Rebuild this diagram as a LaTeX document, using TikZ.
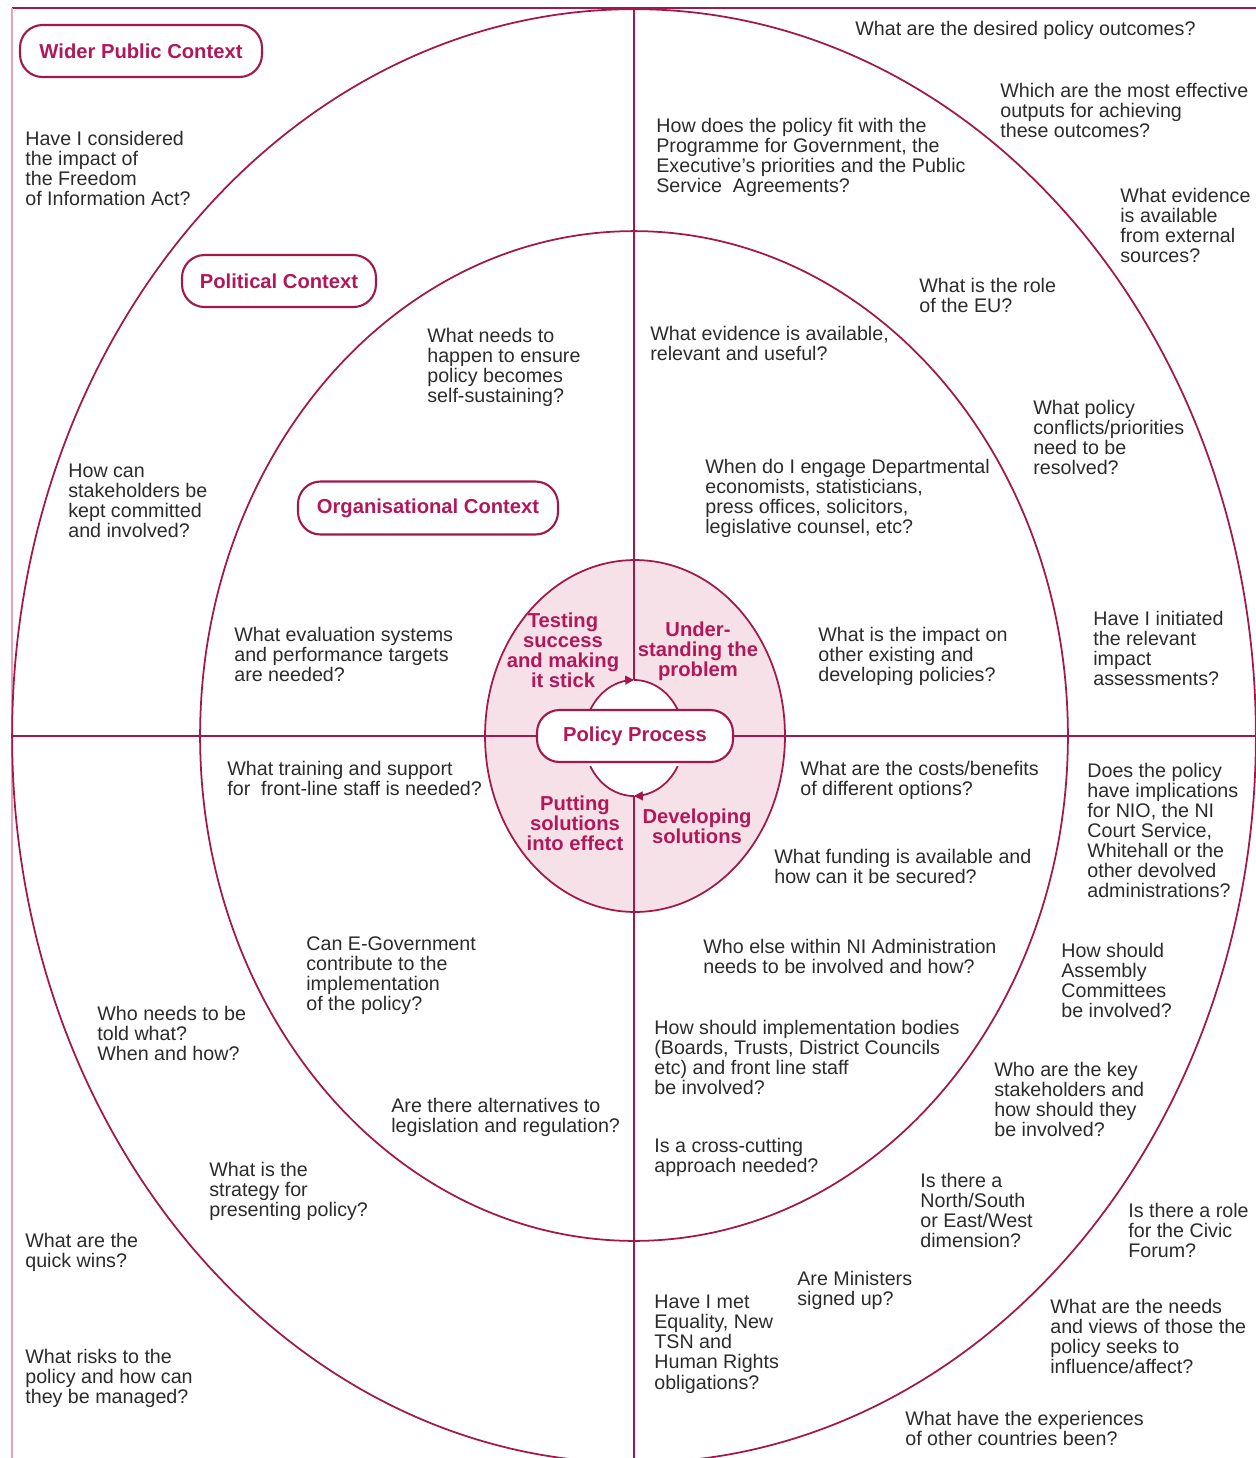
\documentclass[tikz,border=0pt]{standalone}
\usepackage{fontspec}
\setmainfont{Liberation Sans}
\usetikzlibrary{arrows.meta}
\definecolor{ring}{HTML}{A2174C}
\definecolor{ctx}{HTML}{B0185A}
\definecolor{hub}{HTML}{F7E1E9}
\definecolor{qgray}{HTML}{2B2B2B}
\definecolor{edge}{HTML}{E8A3B8}
\tikzset{
  question/.style={anchor=north west, align=left, inner sep=0pt, text=qgray,
    font=\fontsize{11.2}{11.4}\selectfont},
  context/.style={draw=ring, line width=1.2pt, fill=white, rounded corners=0.45cm,
    inner sep=0pt, text=ctx, font=\fontsize{11.5}{13}\selectfont\bfseries},
  stage/.style={anchor=north, align=center, inner sep=0pt, text=ctx,
    font=\fontsize{11.5}{11.4}\selectfont\bfseries},
  ringline/.style={draw=ring, line width=1pt}
}
\begin{document}
\begin{tikzpicture}[x=0.02cm, y=-0.02cm]
\useasboundingbox (0,0) rectangle (1256,1458);
\draw[ring, line width=1.2pt] (12,8) -- (1256,8);
\draw[edge, line width=1pt] (12,8) -- (12,1458);
\draw[ringline] (634,736) ellipse [x radius=12.44cm, y radius=14.54cm];
\draw[ringline] (634,736) ellipse [x radius=8.68cm, y radius=10.1cm];
\draw[ringline, fill=hub] (635,736) ellipse [x radius=3cm, y radius=3.52cm];
\draw[ringline] (12,736) -- (1256,736);
\draw[ringline] (634,8) -- (634,1458);
\fill[white] (634,738) ellipse [x radius=1cm, y radius=1.16cm];
\draw[ringline, -{Triangle[length=5pt,width=5pt]}] plot[domain=209:270, samples=40] ({634+50*cos(\x)},{738+58*sin(\x)});
\draw[ringline] plot[domain=270:331, samples=40] ({634+50*cos(\x)},{738+58*sin(\x)});
\draw[ringline, -{Triangle[length=5pt,width=5pt]}] plot[domain=29:90, samples=40] ({634+50*cos(\x)},{738+58*sin(\x)});
\draw[ringline] plot[domain=90:151, samples=40] ({634+50*cos(\x)},{738+58*sin(\x)});
\node[context, minimum width=3.92cm, minimum height=1.04cm] (policy) at (635,736) {Policy Process};
\node[context, minimum width=4.84cm, minimum height=1.04cm] (wider) at (141,51) {Wider Public Context};
\node[context, minimum width=3.88cm, minimum height=1.04cm] (political) at (279,281) {Political Context};
\node[context, minimum width=5.2cm, minimum height=1.06cm] (organisational) at (428,508) {Organisational Context};
\node[stage] (testing) at (563,612) {Testing\\success\\and making\\it stick};
\node[stage] (understanding) at (698,621) {Under-\\standing the\\problem};
\node[stage] (putting) at (575,795) {Putting\\solutions\\into effect};
\node[stage] (developing) at (697,808) {Developing\\solutions};
\node[question] (outcomes) at (855,21) {What are the desired policy outcomes?};
\node[question] (outputs) at (1000,83) {Which are the most effective\\outputs for achieving\\these outcomes?};
\node[question] (progGov) at (656,118) {How does the policy fit with the\\Programme for Government, the\\Executive's priorities and the Public\\Service\ \ Agreements?};
\node[question] (extEvidence) at (1120,188) {What evidence\\is available\\from external\\sources?};
\node[question] (foi) at (25,131) {Have I considered\\the impact of\\the Freedom\\of Information Act?};
\node[question] (euRole) at (919,278) {What is the role\\of the EU?};
\node[question] (evidence) at (650,326) {What evidence is available,\\relevant and useful?};
\node[question] (sustain) at (427,328) {What needs to\\happen to ensure\\policy becomes\\self-sustaining?};
\node[question] (conflicts) at (1033,400) {What policy\\conflicts/priorities\\need to be\\resolved?};
\node[question] (engage) at (705,459) {When do I engage Departmental\\economists, statisticians,\\press offices, solicitors,\\legislative counsel, etc?};
\node[question] (committed) at (68,464) {How can\\stakeholders be\\kept committed\\and involved?};
\node[question] (evaluation) at (234,627) {What evaluation systems\\and performance targets\\are needed?};
\node[question] (impactPol) at (818,627) {What is the impact on\\other existing and\\developing policies?};
\node[question] (impactAss) at (1093,611) {Have I initiated\\the relevant\\impact\\assessments?};
\node[question] (training) at (227,761) {What training and support\\for\ \ front-line staff is needed?};
\node[question] (costs) at (800,761) {What are the costs/benefits\\of different options?};
\node[question] (implic) at (1087,763) {Does the policy\\have implications\\for NIO, the NI\\Court Service,\\Whitehall or the\\other devolved\\administrations?};
\node[question] (funding) at (774,849) {What funding is available and\\how can it be secured?};
\node[question] (egov) at (306,936) {Can E-Government\\contribute to the\\implementation\\of the policy?};
\node[question] (niAdmin) at (703,939) {Who else within NI Administration\\needs to be involved and how?};
\node[question] (assembly) at (1061,943) {How should\\Assembly\\Committees\\be involved?};
\node[question] (told) at (97,1006) {Who needs to be\\told what?\\When and how?};
\node[question] (bodies) at (654,1020) {How should implementation bodies\\(Boards, Trusts, District Councils\\etc) and front line staff\\be involved?};
\node[question] (keyStake) at (994,1062) {Who are the key\\stakeholders and\\how should they\\be involved?};
\node[question] (alternatives) at (391,1098) {Are there alternatives to\\legislation and regulation?};
\node[question] (crossCut) at (654,1138) {Is a cross-cutting\\approach needed?};
\node[question] (strategy) at (209,1162) {What is the\\strategy for\\presenting policy?};
\node[question] (northSouth) at (920,1173) {Is there a\\North/South\\or East/West\\dimension?};
\node[question] (civic) at (1128,1203) {Is there a role\\for the Civic\\Forum?};
\node[question] (quickWins) at (25,1233) {What are the\\quick wins?};
\node[question] (ministers) at (797,1271) {Are Ministers\\signed up?};
\node[question] (equality) at (654,1295) {Have I met\\Equality, New\\TSN and\\Human Rights\\obligations?};
\node[question] (needs) at (1050,1299) {What are the needs\\and views of those the\\policy seeks to\\influence/affect?};
\node[question] (risks) at (25,1349) {What risks to the\\policy and how can\\they be managed?};
\node[question] (countries) at (905,1411) {What have the experiences\\of other countries been?};
\end{tikzpicture}
\end{document}
